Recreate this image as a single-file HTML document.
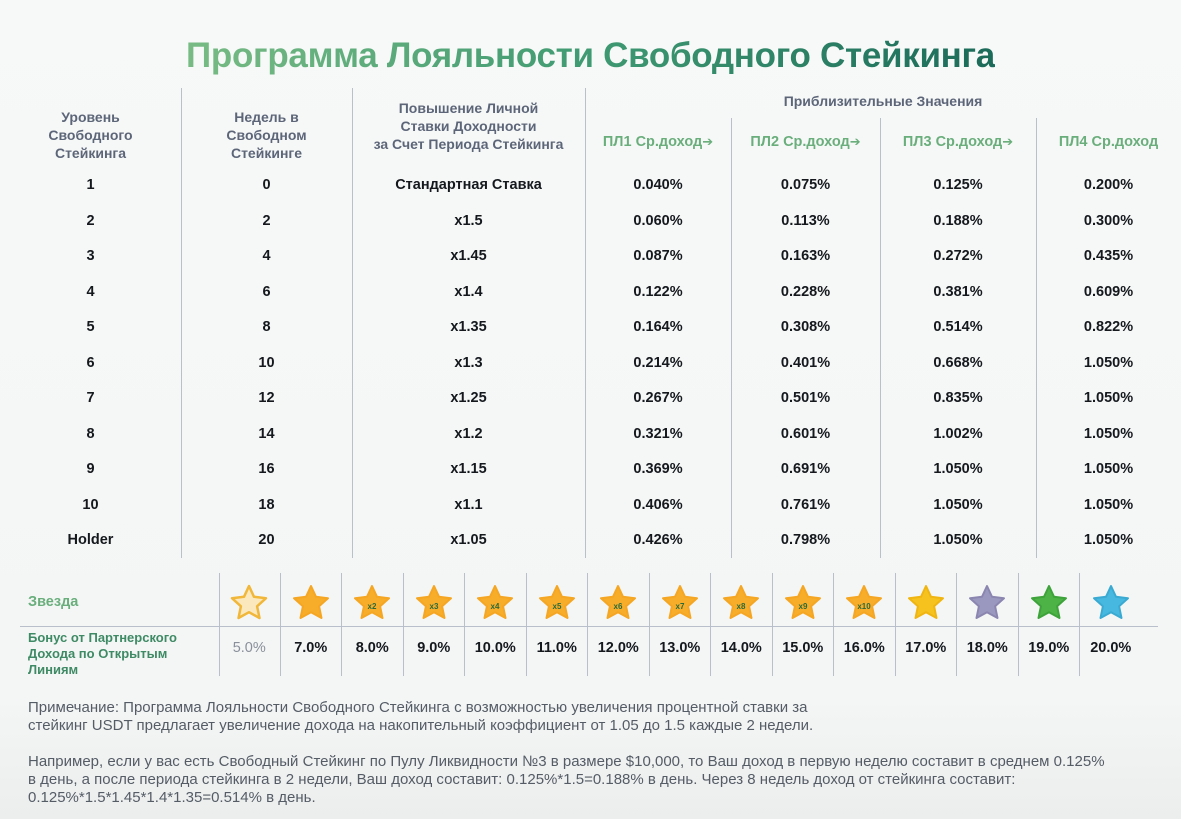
<!DOCTYPE html><html><head><meta charset="utf-8"><style>
*{margin:0;padding:0;box-sizing:border-box}
body{width:1181px;height:819px;overflow:hidden;background:linear-gradient(180deg,#f7f9f8 0%,#f4f6f6 85%,#eceeee 100%);font-family:"Liberation Sans",sans-serif;position:relative}
.t{position:absolute;left:0;top:36px;width:1181px;text-align:center;font-size:35px;font-weight:bold;letter-spacing:-0.3px}
.t span{background:linear-gradient(90deg,#78bb84,#3f9a72 50%,#1c6b5a);-webkit-background-clip:text;background-clip:text;color:transparent}
.v{position:absolute;width:1px;background:#b9c0cc}
.h{position:absolute;font-weight:bold;font-size:14px;color:#5d6679;text-align:center;line-height:18px}
.g{color:#6aae7c;font-size:14.5px}
.g i{font-style:normal;font-family:"DejaVu Sans",sans-serif;font-size:13px}
.row{position:absolute;left:0;width:1181px;height:35.5px;display:flex;font-weight:bold;font-size:14.5px;color:#15181d;line-height:35.5px}
.row div{text-align:center}
.c1{width:181px}.c2{width:171px}.c3{width:233px}.c4{width:146px}.c5{width:149px}.c6{width:156px}.c7{width:145px}
.s{position:absolute;top:573px;width:61.5px;height:103px;border-right:1px solid #b9c0cc;text-align:center}
.s svg{margin-top:11px}
.s .p{position:absolute;left:0;width:100%;top:67px;font-weight:bold;font-size:14.5px;color:#15181d}
.n{position:absolute;left:28px;font-size:15px;color:#555c66;line-height:18px;white-space:nowrap}
</style></head><body>
<div class="t"><span>Программа Лояльности Свободного Стейкинга</span></div>
<div class="v" style="left:181px;top:88px;height:470px"></div>
<div class="v" style="left:352px;top:88px;height:470px"></div>
<div class="v" style="left:585px;top:88px;height:470px"></div>
<div class="v" style="left:731px;top:118px;height:440px"></div>
<div class="v" style="left:880px;top:118px;height:440px"></div>
<div class="v" style="left:1036px;top:118px;height:440px"></div>
<div class="h" style="left:0;width:181px;top:108px">Уровень<br>Свободного<br>Стейкинга</div>
<div class="h" style="left:181px;width:171px;top:108px">Недель в<br>Свободном<br>Стейкинге</div>
<div class="h" style="left:352px;width:233px;top:99px">Повышение Личной<br>Ставки Доходности<br>за Счет Периода Стейкинга</div>
<div class="h" style="left:585px;width:596px;top:92px">Приблизительные Значения</div>
<div class="h g" style="left:585px;width:146px;top:133px">ПЛ1 Ср.доход<i>➔</i></div>
<div class="h g" style="left:731px;width:149px;top:133px">ПЛ2 Ср.доход<i>➔</i></div>
<div class="h g" style="left:880px;width:156px;top:133px">ПЛ3 Ср.доход<i>➔</i></div>
<div class="h g" style="left:1036px;width:145px;top:133px">ПЛ4 Ср.доход</div>

<div class="row" style="top:168px"><div class="c1">1</div><div class="c2">0</div><div class="c3">Стандартная Ставка</div><div class="c4">0.040%</div><div class="c5">0.075%</div><div class="c6">0.125%</div><div class="c7">0.200%</div></div>
<div class="row" style="top:203.5px"><div class="c1">2</div><div class="c2">2</div><div class="c3">x1.5</div><div class="c4">0.060%</div><div class="c5">0.113%</div><div class="c6">0.188%</div><div class="c7">0.300%</div></div>
<div class="row" style="top:239px"><div class="c1">3</div><div class="c2">4</div><div class="c3">x1.45</div><div class="c4">0.087%</div><div class="c5">0.163%</div><div class="c6">0.272%</div><div class="c7">0.435%</div></div>
<div class="row" style="top:274.5px"><div class="c1">4</div><div class="c2">6</div><div class="c3">x1.4</div><div class="c4">0.122%</div><div class="c5">0.228%</div><div class="c6">0.381%</div><div class="c7">0.609%</div></div>
<div class="row" style="top:310px"><div class="c1">5</div><div class="c2">8</div><div class="c3">x1.35</div><div class="c4">0.164%</div><div class="c5">0.308%</div><div class="c6">0.514%</div><div class="c7">0.822%</div></div>
<div class="row" style="top:345.5px"><div class="c1">6</div><div class="c2">10</div><div class="c3">x1.3</div><div class="c4">0.214%</div><div class="c5">0.401%</div><div class="c6">0.668%</div><div class="c7">1.050%</div></div>
<div class="row" style="top:381px"><div class="c1">7</div><div class="c2">12</div><div class="c3">x1.25</div><div class="c4">0.267%</div><div class="c5">0.501%</div><div class="c6">0.835%</div><div class="c7">1.050%</div></div>
<div class="row" style="top:416.5px"><div class="c1">8</div><div class="c2">14</div><div class="c3">x1.2</div><div class="c4">0.321%</div><div class="c5">0.601%</div><div class="c6">1.002%</div><div class="c7">1.050%</div></div>
<div class="row" style="top:452px"><div class="c1">9</div><div class="c2">16</div><div class="c3">x1.15</div><div class="c4">0.369%</div><div class="c5">0.691%</div><div class="c6">1.050%</div><div class="c7">1.050%</div></div>
<div class="row" style="top:487.5px"><div class="c1">10</div><div class="c2">18</div><div class="c3">x1.1</div><div class="c4">0.406%</div><div class="c5">0.761%</div><div class="c6">1.050%</div><div class="c7">1.050%</div></div>
<div class="row" style="top:523px"><div class="c1">Holder</div><div class="c2">20</div><div class="c3">x1.05</div><div class="c4">0.426%</div><div class="c5">0.798%</div><div class="c6">1.050%</div><div class="c7">1.050%</div></div>

<div style="position:absolute;left:28px;top:594px;font-weight:bold;font-size:14.5px;color:#6aae7c">Звезда</div>
<div style="position:absolute;left:28px;top:630px;font-weight:bold;font-size:13px;color:#3e8a64;line-height:16px">Бонус от Партнерского<br>Дохода по Открытым<br>Линиям</div>
<div style="position:absolute;left:20px;top:626px;width:1138px;height:1px;background:#b9c0cc"></div>
<div class="v" style="left:219px;top:573px;height:103px"></div>

<svg width="0" height="0" style="position:absolute"><defs>
<path id="st" d="M19 2 L24 12.8 L36 14.2 L27.1 22.3 L29.5 34 L19 28.2 L8.5 34 L10.9 22.3 L2 14.2 L14 12.8 Z"/>
</defs></svg>

<div class="s" style="left:219px"><svg width="38" height="38"><use href="#st" fill="#fbe9bd" stroke="#f1b73a" stroke-width="2.5" stroke-linejoin="round"/></svg><div class="p" style="font-weight:normal;color:#8a909a">5.0%</div></div>
<div class="s" style="left:280.5px"><svg width="38" height="38"><use href="#st" fill="#f7ad2a" stroke="#f5a623" stroke-width="2" stroke-linejoin="round"/></svg><div class="p">7.0%</div></div>
<div class="s" style="left:342px"><svg width="38" height="38"><use href="#st" fill="#f7ad2a" stroke="#f5a623" stroke-width="2" stroke-linejoin="round"/><text x="19" y="25" font-size="8" font-weight="bold" fill="#2a6a3a" text-anchor="middle" font-family="Liberation Sans">x2</text></svg><div class="p">8.0%</div></div>
<div class="s" style="left:403.5px"><svg width="38" height="38"><use href="#st" fill="#f7ad2a" stroke="#f5a623" stroke-width="2" stroke-linejoin="round"/><text x="19" y="25" font-size="8" font-weight="bold" fill="#2a6a3a" text-anchor="middle" font-family="Liberation Sans">x3</text></svg><div class="p">9.0%</div></div>
<div class="s" style="left:465px"><svg width="38" height="38"><use href="#st" fill="#f7ad2a" stroke="#f5a623" stroke-width="2" stroke-linejoin="round"/><text x="19" y="25" font-size="8" font-weight="bold" fill="#2a6a3a" text-anchor="middle" font-family="Liberation Sans">x4</text></svg><div class="p">10.0%</div></div>
<div class="s" style="left:526.5px"><svg width="38" height="38"><use href="#st" fill="#f7ad2a" stroke="#f5a623" stroke-width="2" stroke-linejoin="round"/><text x="19" y="25" font-size="8" font-weight="bold" fill="#2a6a3a" text-anchor="middle" font-family="Liberation Sans">x5</text></svg><div class="p">11.0%</div></div>
<div class="s" style="left:588px"><svg width="38" height="38"><use href="#st" fill="#f7ad2a" stroke="#f5a623" stroke-width="2" stroke-linejoin="round"/><text x="19" y="25" font-size="8" font-weight="bold" fill="#2a6a3a" text-anchor="middle" font-family="Liberation Sans">x6</text></svg><div class="p">12.0%</div></div>
<div class="s" style="left:649.5px"><svg width="38" height="38"><use href="#st" fill="#f7ad2a" stroke="#f5a623" stroke-width="2" stroke-linejoin="round"/><text x="19" y="25" font-size="8" font-weight="bold" fill="#2a6a3a" text-anchor="middle" font-family="Liberation Sans">x7</text></svg><div class="p">13.0%</div></div>
<div class="s" style="left:711px"><svg width="38" height="38"><use href="#st" fill="#f7ad2a" stroke="#f5a623" stroke-width="2" stroke-linejoin="round"/><text x="19" y="25" font-size="8" font-weight="bold" fill="#2a6a3a" text-anchor="middle" font-family="Liberation Sans">x8</text></svg><div class="p">14.0%</div></div>
<div class="s" style="left:772.5px"><svg width="38" height="38"><use href="#st" fill="#f7ad2a" stroke="#f5a623" stroke-width="2" stroke-linejoin="round"/><text x="19" y="25" font-size="8" font-weight="bold" fill="#2a6a3a" text-anchor="middle" font-family="Liberation Sans">x9</text></svg><div class="p">15.0%</div></div>
<div class="s" style="left:834px"><svg width="38" height="38"><use href="#st" fill="#f7ad2a" stroke="#f5a623" stroke-width="2" stroke-linejoin="round"/><text x="19" y="25" font-size="8" font-weight="bold" fill="#2a6a3a" text-anchor="middle" font-family="Liberation Sans">x10</text></svg><div class="p">16.0%</div></div>
<div class="s" style="left:895.5px"><svg width="38" height="38"><use href="#st" fill="#f6c21e" stroke="#f0b510" stroke-width="2" stroke-linejoin="round"/></svg><div class="p">17.0%</div></div>
<div class="s" style="left:957px"><svg width="38" height="38"><use href="#st" fill="#9b98c0" stroke="#8a86b0" stroke-width="2" stroke-linejoin="round"/></svg><div class="p">18.0%</div></div>
<div class="s" style="left:1018.5px"><svg width="38" height="38"><use href="#st" fill="#4db347" stroke="#3ea33a" stroke-width="2" stroke-linejoin="round"/></svg><div class="p">19.0%</div></div>
<div class="s" style="left:1080px;border-right:none"><svg width="38" height="38"><use href="#st" fill="#47b9e0" stroke="#3aaad2" stroke-width="2" stroke-linejoin="round"/></svg><div class="p">20.0%</div></div>

<div class="n" style="top:699px">Примечание: Программа Лояльности Свободного Стейкинга с возможностью увеличения процентной ставки за<br>стейкинг USDT предлагает увеличение дохода на накопительный коэффициент от 1.05 до 1.5 каждые 2 недели.</div>
<div class="n" style="top:753px">Например, если у вас есть Свободный Стейкинг по Пулу Ликвидности №3 в размере $10,000, то Ваш доход в первую неделю составит в среднем 0.125%<br>в день, а после периода стейкинга в 2 недели, Ваш доход составит: 0.125%*1.5=0.188% в день. Через 8 недель доход от стейкинга составит:<br>0.125%*1.5*1.45*1.4*1.35=0.514% в день.</div>
</body></html>
